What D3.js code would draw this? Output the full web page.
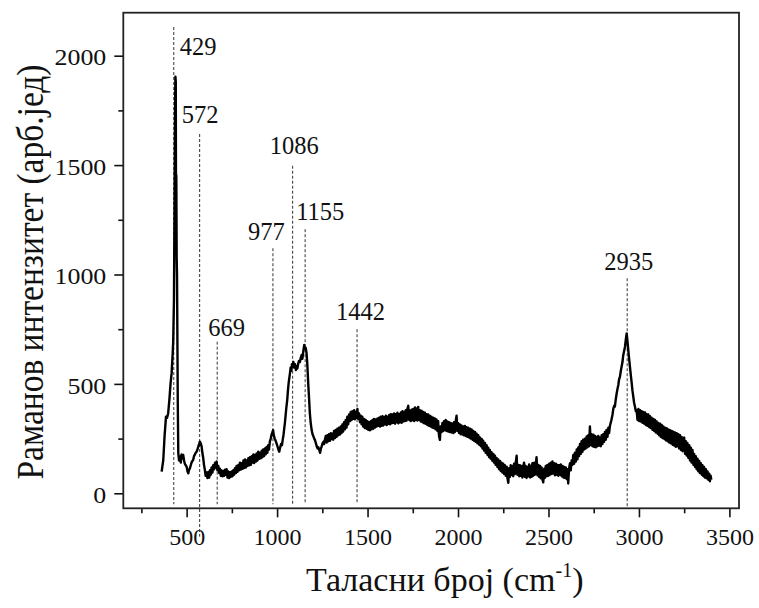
<!DOCTYPE html>
<html>
<head>
<meta charset="utf-8">
<script src="https://cdn.jsdelivr.net/npm/d3@7/dist/d3.min.js"></script>
<style>
  html, body { margin: 0; padding: 0; background: #fff; }
  svg text { font-family: "Liberation Serif", "Times New Roman", serif !important; }
</style>
</head>
<body>
<svg id="chart" width="759" height="608"></svg>
<script>
// ---- data ----
// Raman spectrum: [wavenumber cm^-1, intensity arb. units]
const spectrum = [
 [362,99],[371,152],[378,260],[386,350],[392,345],[398,366],[405,430],[411,500],[417,548],[423,640],[426,700],[430,883],[433,1300],[436,1740],[438,1904],[440,1880],[441,1460],[443,1450],[445,1075],[447,990],[449,700],[451,420],[454,183],[458,150],[463,167],[468,140],[472,178],
 [476,160],[481,175],[486,150],[490,135],[495,128],[500,122],[505,100],[509,91],[513,105],[518,114],[523,128],[527,140],[532,148],[536,152],[541,170],[546,178],[550,185],[555,190],[560,200],[565,215],[569,225],[573,236],[578,228],[583,213],[587,185],[592,160],[596,130],
 [601,106],[605,80],[610,95],[615,70],[620,98],[625,72],[629,105],[634,85],[638,118],[643,95],[647,128],[652,110],[657,140],[661,118],[666,145],[670,105],[675,125],[680,92],[684,112],[689,80],[693,105],[698,78],[702,102],[707,80],[712,108],[716,85],[721,110],[726,72],[730,100],[735,70],[739,96],[744,75],[749,100],[753,78],[758,105],[763,85],[767,115],[772,92],[776,125],[781,98],[786,130],[790,105],[795,140],[800,108],[804,138],[809,112],[814,150],[818,115],[823,155],[827,118],[832,150],[837,125],[841,160],[846,128],[850,165],[855,130],[860,170],[864,140],[869,178],[873,138],[878,175],[883,145],[887,182],[892,150],[896,190],[901,158],[906,185],[910,160],[915,195],[919,165],[923,200],[928,170],[933,205],[937,178],[942,212],[946,185],[951,220],[955,200],[960,236],
 [965,250],[970,270],[975,280],[978,289],[982,265],[987,250],[992,240],[997,228],[1002,215],[1007,200],[1012,190],[1017,210],[1022,225],[1027,220],[1031,244],[1036,270],[1040,300],[1043,320],[1047,355],[1051,390],[1056,426],[1060,470],[1064,505],[1068,530],[1071,548],[1075,575],[1079,560],[1082,590],[1086,586],[1090,600],[1094,575],[1099,590],[1104,563],[1108,580],[1112,570],[1117,594],[1121,605],[1126,600],[1131,620],[1136,632],[1140,615],[1145,650],[1150,678],[1154,660],[1158,665],[1163,640],[1167,590],[1172,503],[1177,430],[1181,366],[1186,320],[1191,289],[1196,270],[1200,262],[1205,250],[1209,244],[1214,230],[1219,215],[1224,205],[1228,210],[1233,198],[1238,185],[1242,205],[1246,213],[1251,228],[1256,235],[1260,225],[1264,244],
 [1269,262],[1274,232],[1278,265],[1283,238],[1287,270],[1292,240],[1297,275],[1301,248],[1306,272],[1310,245],[1315,285],[1320,252],[1324,290],[1329,258],[1333,295],[1338,265],[1342,300],[1347,268],[1352,305],[1356,275],[1361,315],[1365,282],[1370,325],[1375,292],[1379,335],[1384,300],[1388,350],[1393,315],[1398,360],[1403,330],[1407,372],[1412,335],[1416,375],[1421,340],[1426,380],[1430,338],[1435,372],[1440,345],[1444,385],[1448,340],[1453,365],[1458,325],[1462,355],[1467,315],[1471,350],[1476,305],[1481,340],[1485,298],[1490,335],[1495,295],[1499,330],[1504,290],[1509,325],[1513,288],[1518,330],[1522,292],[1527,335],[1532,295],[1536,340],[1541,300],[1545,338],[1550,305],[1555,342],[1559,308],
 [1564,345],[1569,305],[1573,350],[1578,308],[1583,352],[1587,310],[1592,348],[1596,315],[1601,355],[1606,312],[1610,350],[1615,318],[1620,358],[1624,315],[1629,362],[1633,320],[1638,360],[1642,322],[1647,365],[1652,318],[1656,362],[1661,325],[1665,368],[1670,320],[1675,362],[1679,325],[1684,370],[1688,322],[1693,375],[1698,328],[1702,372],[1707,330],[1711,380],[1716,332],[1720,385],[1725,400],[1730,335],[1734,378],[1739,330],[1743,382],[1748,335],[1752,385],[1757,330],[1762,392],[1766,335],[1771,388],[1775,332],[1780,395],[1785,335],[1789,380],[1794,328],[1798,378],[1803,325],[1808,372],[1812,320],[1817,368],[1821,318],[1826,362],[1830,312],[1835,360],[1840,308],[1844,355],[1849,305],[1853,350],[1858,300],[1863,345],[1867,298],[1872,342],[1876,292],[1881,338],[1886,285],[1890,330],[1895,262],[1900,244],[1904,305],[1909,280],[1914,322],[1918,285],[1923,330],[1927,288],[1932,335],[1937,285],[1941,328],[1946,282],[1950,325],[1955,280],[1960,322],[1964,278],[1969,318],[1974,275],[1978,325],[1983,280],[1987,330],[1992,355],[1996,285],[2001,320],[2006,275],[2010,315],[2015,270],[2019,310],[2024,268],[2029,305],[2033,265],[2038,308],[2043,262],[2047,302],[2052,258],[2056,300],[2061,255],[2066,295],[2070,250],[2075,292],[2080,245],[2084,285],[2089,240],[2094,280],[2098,235],[2103,272],[2107,228],[2112,265],[2117,222],[2121,255],[2126,215],[2131,248],[2135,205],[2139,240],[2144,195],[2149,230],[2153,185],[2158,220],[2163,175],[2167,208],[2172,165],[2176,198],[2181,158],[2185,188],[2190,148],[2195,180],
 [2199,140],[2204,172],[2208,130],[2213,162],[2218,120],[2222,155],[2227,110],[2232,148],[2236,102],[2241,140],[2245,95],[2250,135],[2255,88],[2259,128],[2264,80],[2269,122],[2273,70],[2278,48],[2282,115],[2287,75],[2291,128],[2296,85],[2301,125],[2305,78],[2310,135],[2315,88],[2319,140],[2324,172],[2328,85],[2333,130],[2338,78],[2342,128],[2347,80],[2351,125],[2356,72],[2360,122],[2365,140],[2370,75],[2374,125],[2379,70],[2384,120],[2388,78],[2393,132],[2398,72],[2402,125],[2407,75],[2411,138],[2416,80],[2421,140],[2425,85],[2430,130],[2434,165],[2439,82],[2444,130],[2448,75],[2453,125],[2457,68],[2462,118],[2467,62],[2471,50],[2476,112],[2480,70],[2485,125],[2490,78],[2494,130],[2499,80],[2504,135],[2508,85],[2513,140],[2517,88],[2522,145],[2527,90],[2531,138],[2536,82],[2541,135],[2545,85],[2550,130],[2554,80],[2559,128],[2564,85],[2568,132],[2573,78],[2578,125],[2582,72],[2587,120],[2591,70],[2596,118],[2601,65],[2605,110],[2609,45],[2614,115],[2619,138],[2623,105],[2628,150],
 [2632,130],[2637,175],[2642,135],[2646,185],[2651,145],[2656,200],[2660,155],[2665,210],[2669,170],[2674,225],[2679,180],[2683,238],[2688,190],[2692,245],[2697,200],[2701,250],[2706,205],[2711,260],[2715,210],[2720,265],[2724,215],[2729,305],[2734,220],[2738,270],[2743,215],[2748,268],[2752,212],[2757,262],[2761,210],[2766,258],[2771,215],[2775,262],[2780,218],[2784,255],[2789,215],[2794,265],[2798,225],[2803,270],[2807,235],[2812,280],[2817,245],[2821,290],[2826,258],[2831,300],[2835,275],[2840,310],[2845,325],[2849,340],[2854,360],[2858,385],[2863,400],[2867,396],[2872,430],[2877,457],[2881,475],[2886,495],[2890,520],[2895,533],[2900,560],[2904,578],[2909,600],[2913,630],[2918,650],[2923,670],[2927,700],[2932,731],[2936,700],[2941,655],
 [2945,620],[2950,580],[2955,540],[2960,503],[2964,470],[2969,440],[2973,415],[2978,395],[2983,375],
 [2987,381],[2992,335],[2997,385],[3001,330],[3006,380],[3010,328],[3015,375],[3020,322],[3024,372],[3029,318],[3034,370],[3038,312],[3043,362],[3047,308],[3052,360],[3057,302],[3061,352],[3066,298],[3070,345],[3075,290],[3080,340],[3084,285],[3089,335],[3093,278],[3098,328],[3103,272],[3107,322],[3112,265],[3117,318],[3121,258],[3126,312],[3130,252],[3135,305],[3140,248],[3144,300],[3149,242],[3153,298],[3158,238],[3163,292],[3167,232],[3172,288],[3176,228],[3181,285],[3186,222],[3190,282],[3195,218],[3199,278],[3204,212],[3209,275],[3213,215],[3218,270],[3222,205],[3227,265],[3232,198],[3236,258],[3241,192],[3245,245],[3250,255],[3255,180],[3259,238],[3264,172],[3268,230],[3273,162],[3278,220],[3282,150],[3287,208],[3291,140],[3296,198],[3301,130],[3305,180],[3310,120],[3314,170],[3319,110],[3324,158],[3328,100],[3333,148],[3337,92],[3342,138],[3347,85],[3351,128],[3356,78],[3360,120],[3365,72],[3370,110],[3374,68],[3379,100],[3383,62],[3388,90],[3392,55],[3396,80],[3400,62]
];

// annotated Raman bands
const peakPositions = [429, 572, 669, 977, 1086, 1155, 1442, 2935];
const peakLabels    = ["429", "572", "669", "977", "1086", "1155", "1442", "2935"];
const peakLineTops  = [2131, 1642, 693, 1120, 1497, 1207, 750, 983];   // intensity where dashed line starts
const peakLineEnds  = [-50, -198, -50, -50, -50, -50, -50, -67];       // intensity where dashed line ends

// axes
const xTicks      = [500, 1000, 1500, 2000, 2500, 3000, 3500];
const xMinorTicks = [250, 750, 1250, 1750, 2250, 2750, 3250];
const yTicks      = [0, 500, 1000, 1500, 2000];
const yMinorTicks = [250, 750, 1250, 1750];
const xTitle = "Таласни број (cm";
const xTitleSup = "-1";
const xTitleEnd = ")";
const yTitle = "Раманов интензитет (арб.јед)";

// ---- layout ----
const plot = { left: 123.3, right: 739, top: 12.7, bottom: 508.3 };
// label placement relative to the top of each dashed line (px): [dx to label start, dy to baseline]
const labelOffsets = [[6, 28], [-18, -11], [-9, -6], [-25, -8], [-23, -12], [-9, -9], [-21, -9], [-23, -8]];

const svg = d3.select("#chart");

const x = d3.scaleLinear().domain([150, 3553]).range([plot.left, plot.right]);
const y = d3.scaleLinear().domain([-68.6, 2196.5]).range([plot.bottom, plot.top]);

function styleAxis(g) {
  g.attr("font-family", null);
  g.select(".domain").remove();
  g.selectAll(".tick line").attr("stroke", "#111").attr("stroke-width", 1.6);
}

const gx = svg.append("g").attr("transform", `translate(0,${plot.bottom})`)
  .call(d3.axisBottom(x).tickValues(xTicks).tickSize(9).tickFormat(d3.format("d")));
styleAxis(gx);
gx.selectAll(".tick text").attr("y", 37).attr("dy", 0)
  .attr("font-size", 24).attr("fill", "#111");

const gxm = svg.append("g").attr("transform", `translate(0,${plot.bottom})`)
  .call(d3.axisBottom(x).tickValues(xMinorTicks).tickSize(5).tickFormat(""));
styleAxis(gxm);

const gy = svg.append("g").attr("transform", `translate(${plot.left},0)`)
  .call(d3.axisLeft(y).tickValues(yTicks).tickSize(9).tickFormat(d3.format("d")));
styleAxis(gy);
gy.selectAll(".tick text").attr("x", 0).attr("dy", "0.38em")
  .attr("font-size", 24).attr("fill", "#111")
  .attr("transform", "translate(-17,0) scale(1.08,1)");

const gym = svg.append("g").attr("transform", `translate(${plot.left},0)`)
  .call(d3.axisLeft(y).tickValues(yMinorTicks).tickSize(5).tickFormat(""));
styleAxis(gym);

// frame
svg.append("rect")
  .attr("x", plot.left).attr("y", plot.top)
  .attr("width", plot.right - plot.left).attr("height", plot.bottom - plot.top)
  .attr("fill", "none").attr("stroke", "#222").attr("stroke-width", 1.8);

// dashed band markers
const peaks = peakPositions.map((p, i) => ({ p, label: peakLabels[i], top: peakLineTops[i], end: peakLineEnds[i], off: labelOffsets[i] }));

svg.append("g").selectAll("line").data(peaks).join("line")
  .attr("x1", d => x(d.p)).attr("x2", d => x(d.p))
  .attr("y1", d => y(d.top)).attr("y2", d => y(d.end))
  .attr("stroke", "#333").attr("stroke-width", 1)
  .attr("stroke-dasharray", "3,2");

// spectrum
const line = d3.line().x(d => x(d[0])).y(d => y(d[1]));
svg.append("path").datum(spectrum)
  .attr("d", line)
  .attr("fill", "none").attr("stroke", "#000")
  .attr("stroke-width", 2.4).attr("stroke-linejoin", "round");

// band labels
svg.append("g").selectAll("text").data(peaks).join("text")
  .attr("x", d => x(d.p) + d.off[0])
  .attr("y", d => y(d.top) + d.off[1])
  .attr("font-size", 24.5).attr("fill", "#111")
  .text(d => d.label);

// axis titles
const xt = svg.append("text")
  .attr("x", 306).attr("y", 591)
  .attr("font-size", 34).attr("fill", "#111");
xt.append("tspan").text(xTitle);
xt.append("tspan").attr("font-size", 20).attr("dy", -14).text(xTitleSup);
xt.append("tspan").attr("dy", 14).text(xTitleEnd);

svg.append("text")
  .attr("transform", `translate(43,272) rotate(-90)`)
  .attr("text-anchor", "middle")
  .attr("font-size", 38).attr("fill", "#111")
  .attr("textLength", 415).attr("lengthAdjust", "spacingAndGlyphs")
  .text(yTitle);
</script>
</body>
</html>
